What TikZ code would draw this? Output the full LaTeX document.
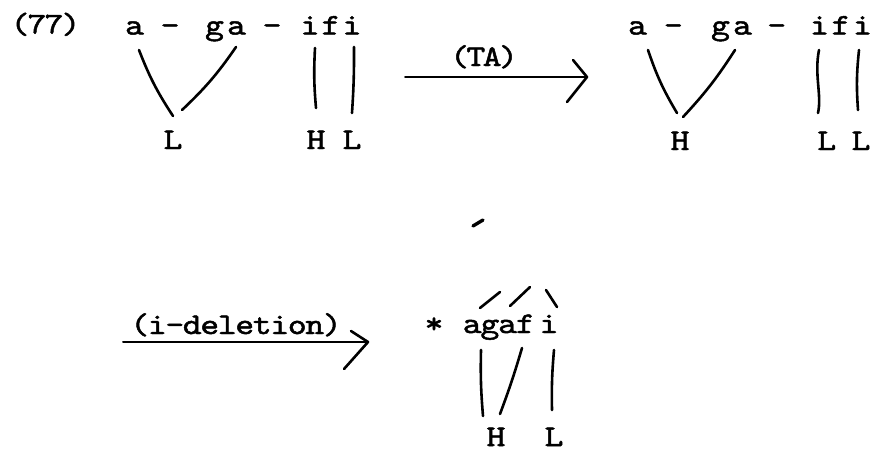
\documentclass[tikz,border=0pt]{standalone}
\usepackage{fontspec}
\newfontfamily\tw{lmmono10-regular.otf}[FakeBold=1.6,FakeStretch=1.2]
\newcommand\cb[2]{\makebox[#1][c]{#2}}
\tikzset{
  txt/.style={inner sep=0pt, anchor=base, font={\tw\fontsize{30pt}{30pt}\selectfont}},
  txtw/.style={txt, anchor=base west},
  assoc/.style={line width=2.6pt, line cap=round},
  arrowline/.style={line width=2.6pt, line cap=round, line join=round},
  shaft/.style={line width=2pt, line cap=round},
}
\begin{document}
\begin{tikzpicture}[x=1pt,y=-1pt]
\useasboundingbox (0,0) rectangle (873,451);

% ---------- first form ----------
\node[txt] (num) at (45.5,33.5) {\cb{17pt}{(}\cb{17pt}{7}\cb{17pt}{7}\cb{17pt}{)}};
\node[txt] (a1)   at (134.5,34.5) {a};
\node[txt] (h1)   at (170,34.5) {-};
\node[txt] (ga1)  at (225.5,34.5) {\cb{22pt}{g}\cb{22pt}{a}};
\node[txt] (h2)   at (272,34.5) {-};
\node[txt] (ifi1) at (331,34.5) {\cb{21pt}{i}\cb{21pt}{f}\cb{21pt}{i}};
\node[txt] (tL1)  at (173,149) {L};
\node[txt] (tH2)  at (316,149) {H};
\node[txt] (tL3)  at (352,149) {L};

\coordinate (p1a) at (139,50);  \coordinate (p1b) at (173,116);
\coordinate (p2a) at (236,47);  \coordinate (p2b) at (182,110);
\coordinate (p3a) at (315,48);  \coordinate (p3b) at (316,108);
\coordinate (p4a) at (354,47);  \coordinate (p4b) at (352,113);
\draw[assoc] (p1a) to[bend right=6] (p1b);
\draw[assoc] (p2a) to[bend left=6] (p2b);
\draw[assoc] (p3a) to[bend right=4] (p3b);
\draw[assoc] (p4a) to[bend left=2] (p4b);

% ---------- rule TA ----------
\node[txt] (ta) at (484,66) {\cb{16.3pt}{(}\cb{16.3pt}{T}\cb{16.3pt}{A}\cb{16.3pt}{)}};
\coordinate (taS) at (405,77);
\coordinate (taT) at (587,77);
\coordinate (taU) at (573,60);
\coordinate (taD) at (567,102);
\draw[shaft] (taS) -- (taT);
\draw[arrowline] (taU) -- (taT) -- (taD);

% ---------- second form ----------
\node[txt] (a2)   at (637.5,34.5) {a};
\node[txt] (h3)   at (673.3,34.5) {-};
\node[txt] (ga2)  at (731.5,34.5) {\cb{22pt}{g}\cb{22pt}{a}};
\node[txt] (h4)   at (776.7,34.5) {-};
\node[txt] (ifi2) at (841,34.5) {\cb{21.5pt}{i}\cb{21.5pt}{f}\cb{21.5pt}{i}};
\node[txt] (tH5)  at (680,150) {H};
\node[txt] (tL6)  at (826.7,150) {L};
\node[txt] (tL7)  at (861,150) {L};

\coordinate (q1a) at (648,50);  \coordinate (q1b) at (677,113);
\coordinate (q2a) at (735,50);  \coordinate (q2b) at (683,117);
\coordinate (q3a) at (819,50);  \coordinate (q3b) at (818,113);
\coordinate (q4a) at (859,50);  \coordinate (q4b) at (858,110);
\draw[assoc] (q1a) to[bend right=6] (q1b);
\draw[assoc] (q2a) to[bend left=5] (q2b);
\draw[assoc] (q3a) .. controls (814,75) and (822,95) .. (q3b);
\draw[assoc] (q4a) to[bend right=5] (q4b);

% small stray tick
\coordinate (k1) at (473,226);
\coordinate (k2) at (483,220);
\draw[line width=3.4pt, line cap=round] (k1) -- (k2);

% ---------- rule i-deletion ----------
\node[txt] (idel) at (236,334) {\cb{17.5pt}{(}\cb{17.5pt}{i}\cb{17.5pt}{-}\cb{17.5pt}{d}\cb{17.5pt}{e}\cb{17.5pt}{l}\cb{17.5pt}{e}\cb{17.5pt}{t}\cb{17.5pt}{i}\cb{17.5pt}{o}\cb{17.5pt}{n}\cb{17.5pt}{)}};
\coordinate (idS) at (123,342);
\coordinate (idT) at (368,342);
\coordinate (idU) at (351,331);
\coordinate (idD) at (344,369);
\draw[shaft] (idS) -- (idT);
\draw[arrowline] (idU) -- (idT) -- (idD);

% ---------- output form ----------
\node[txt] (star) at (434,333) {*};
\node[txtw] (agafi) at (463.15,333) {\cb{17.7pt}{a}\cb{17.7pt}{g}\cb{17.7pt}{a}\cb{17.7pt}{f}\hspace{6pt}\cb{17.7pt}{i}};
\node[txt] (tH8) at (496,446) {H};
\node[txt] (tL9) at (554,446) {L};

\coordinate (s1a) at (480,308); \coordinate (s1b) at (500,292);
\coordinate (s2a) at (510,306); \coordinate (s2b) at (530,287);
\coordinate (s3a) at (546,290); \coordinate (s3b) at (557,307);
\draw[assoc] (s1a) -- (s1b);
\draw[assoc] (s2a) -- (s2b);
\draw[assoc] (s3a) -- (s3b);

\coordinate (b1a) at (481,350); \coordinate (b1b) at (483,416);
\coordinate (b2a) at (522,348); \coordinate (b2b) at (500,414);
\coordinate (b3a) at (554,350); \coordinate (b3b) at (552,410);
\draw[assoc] (b1a) to[bend right=3] (b1b);
\draw[assoc] (b2a) to[bend left=2] (b2b);
\draw[assoc] (b3a) to[bend right=3] (b3b);
\end{tikzpicture}
\end{document}
